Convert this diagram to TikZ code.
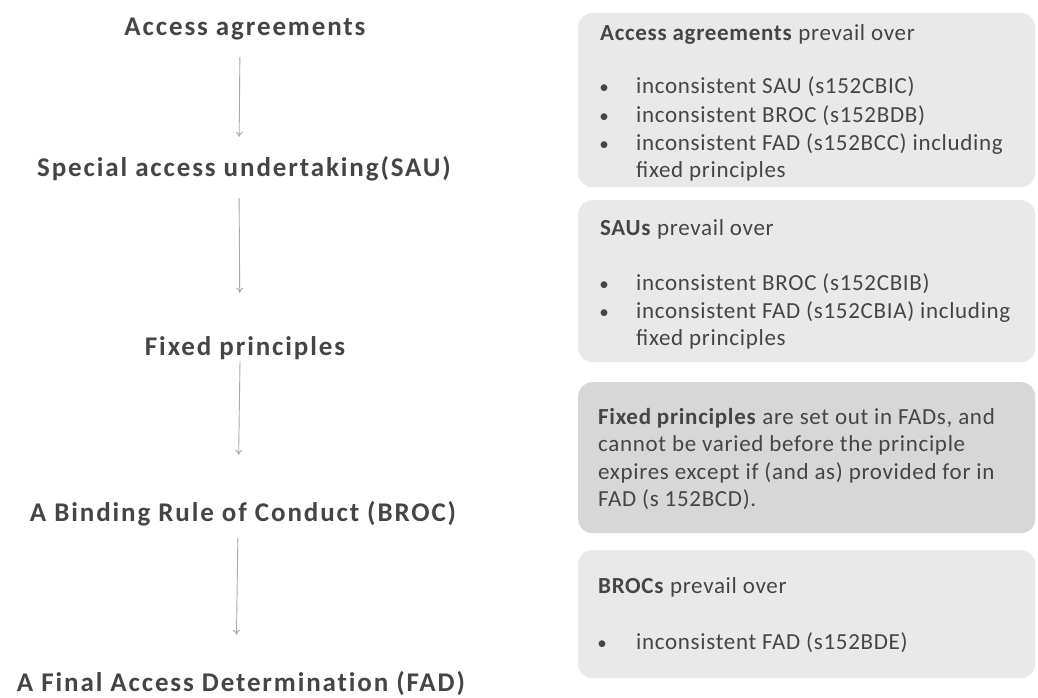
\documentclass[tikz,border=0pt]{standalone}
\usepackage{fontspec}
\setmainfont{Carlito}
\usetikzlibrary{arrows.meta}

\definecolor{ink}{HTML}{454545}
\definecolor{panelgray}{HTML}{E9E9E9}
\definecolor{paneldark}{HTML}{D7D7D7}
\definecolor{linkgray}{HTML}{A8A8A8}

\begin{document}
\begin{tikzpicture}[x=1pt,y=-1pt,
  level/.style={font=\fontsize{27}{31}\selectfont\bfseries\addfontfeature{LetterSpace=7,Ligatures=NoCommon}, text=ink,
    inner sep=0pt, text height=20pt, text depth=6pt},
  link/.style={draw=linkgray, line width=0.9pt, -{To[length=5pt,width=7pt]}},
  panel/.style={rounded corners=14pt, anchor=north west, inner sep=0pt},
  txt/.style={font=\fontsize{23}{27.5}\selectfont\addfontfeature{LetterSpace=3}, text=ink,
    anchor=base west, inner sep=0pt},
  bul/.style={font=\fontsize{19}{27}\selectfont, text=ink, anchor=base, inner sep=0pt}]
\useasboundingbox (0,0) rectangle (1038,698);

% left column
\node[level] (agree) at (245,29) {Access agreements};
\node[level] (sau) at (244,169) {Special access undertaking(SAU)};
\node[level] (fixed) at (245,348) {Fixed principles};
\node[level] (broc) at (243,514) {A Binding Rule of Conduct (BROC)};
\node[level] (fad) at (241,684) {A Final Access Determination (FAD)};

\draw[link, shorten <=15pt, shorten >=19pt] ([xshift=-5pt]agree.south) -- ([xshift=-5pt]sau.north);
\draw[link, shorten <=16pt, shorten >=42pt] ([xshift=-5pt]sau.south) -- ([xshift=-5pt]fixed.north);
\draw[link, shorten <=0pt, shorten >=46pt] ([xshift=-5pt]fixed.south) -- ([xshift=-5pt]broc.north);
\draw[link, shorten <=11pt, shorten >=36pt] ([xshift=-5pt]broc.south) -- ([xshift=-5pt]fad.north);

% right column
\node[panel, fill=panelgray, minimum width=457pt, minimum height=174pt] (box1) at (578,13) {};
\node[txt] (h1) at (600,41) {\textbf{Access agreements} prevail over};
\node[bul] at (604,94) {\textbullet};
\node[txt] (i11) at (636,94) {inconsistent SAU (s152CBIC)};
\node[bul] at (604,122) {\textbullet};
\node[txt] (i12) at (636,122) {inconsistent BROC (s152BDB)};
\node[bul] at (604,150) {\textbullet};
\node[txt] (i13) at (636,150) {\vtop{\hbox{inconsistent FAD (s152BCC) including}\hbox{fixed principles}}};

\node[panel, fill=panelgray, minimum width=457pt, minimum height=162pt] (box2) at (578,200) {};
\node[txt] (h2) at (600,235) {\textbf{SAUs} prevail over};
\node[bul] at (604,290) {\textbullet};
\node[txt] (i21) at (636,290) {inconsistent BROC (s152CBIB)};
\node[bul] at (604,318) {\textbullet};
\node[txt] (i22) at (636,318) {\vtop{\hbox{inconsistent FAD (s152CBIA) including}\hbox{fixed principles}}};

\node[panel, fill=paneldark, minimum width=457pt, minimum height=151pt] (box3) at (578,382) {};
\node[txt] (h3) at (598,424) {\vtop{\hbox{\textbf{Fixed principles} are set out in FADs, and}
  \hbox{cannot be varied before the principle}
  \hbox{expires except if (and as) provided for in}
  \hbox{FAD (s 152BCD).}}};

\node[panel, fill=panelgray, minimum width=457pt, minimum height=128pt] (box4) at (578,550) {};
\node[txt] (h4) at (598,593) {\textbf{BROCs} prevail over};
\node[bul] at (602,649) {\textbullet};
\node[txt] (i41) at (636,649) {inconsistent FAD (s152BDE)};
\end{tikzpicture}
\end{document}
